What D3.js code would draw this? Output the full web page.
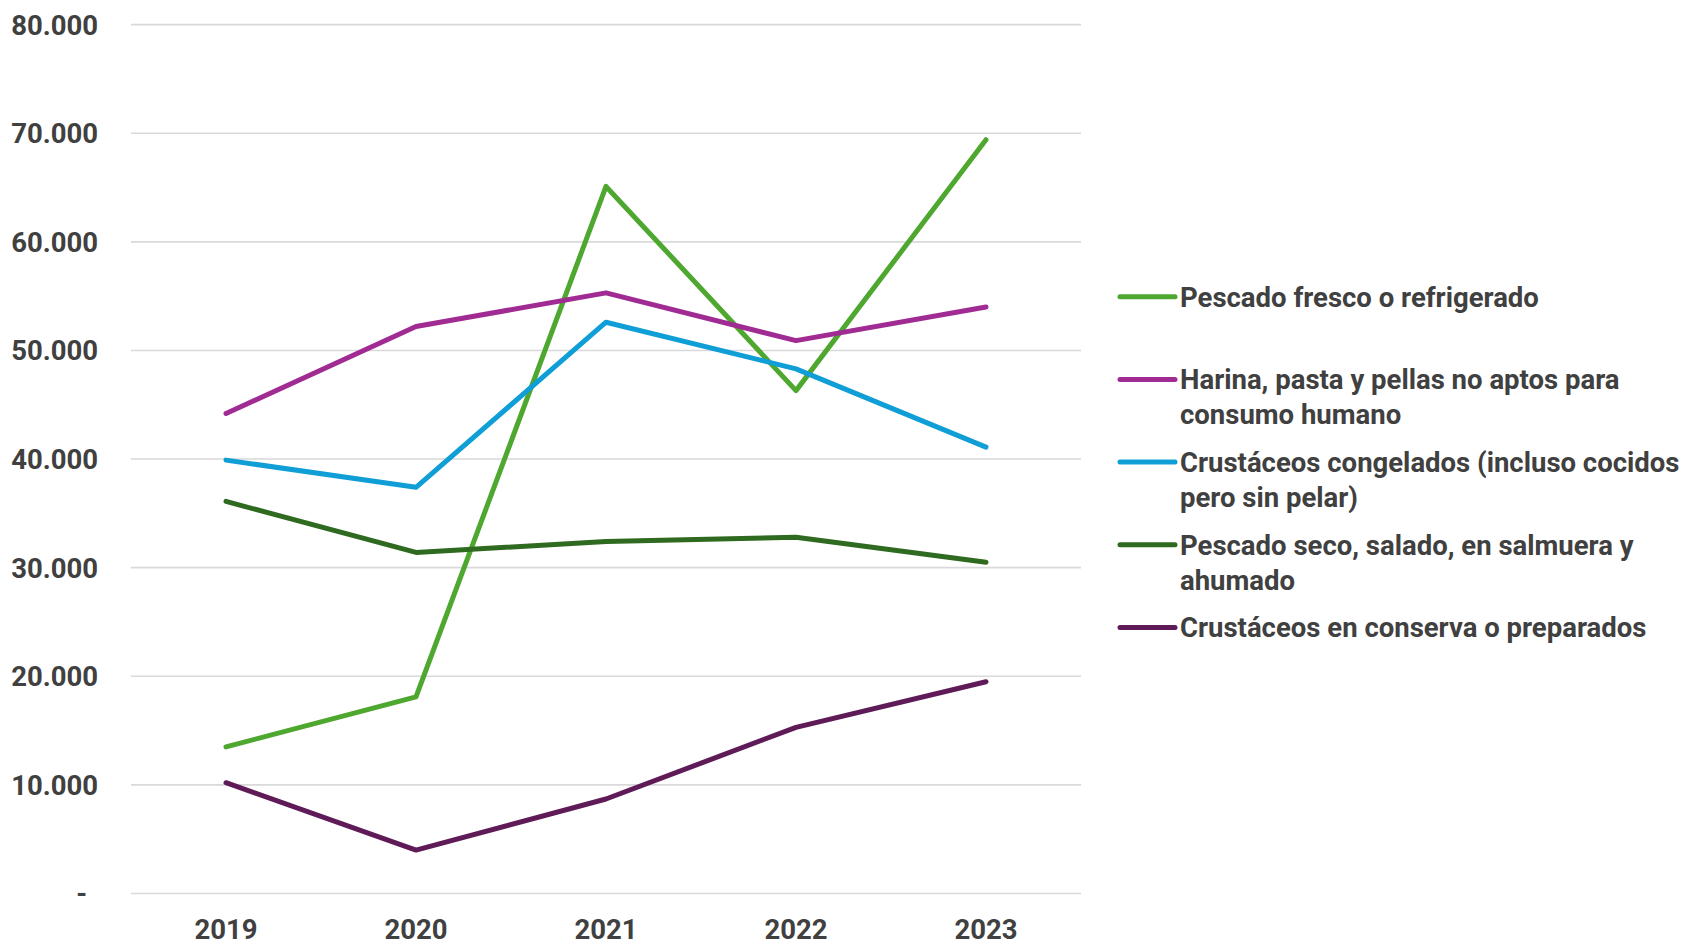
<!DOCTYPE html>
<html>
<head>
<meta charset="utf-8">
<script src="https://cdn.jsdelivr.net/npm/d3@7"></script>
<style>
  body { margin: 0; background: #fff; }
  text { font-family: Roboto, "Noto Sans", sans-serif; font-weight: 700; fill: #404040; }
</style>
</head>
<body>
<div id="wrapper"></div>
<script>
var YEARS = ["2019", "2020", "2021", "2022", "2023"]
var Y_TICKS = [0, 10000, 20000, 30000, 40000, 50000, 60000, 70000, 80000]

var PESCADO_FRESCO = [13500, 18100, 65100, 46300, 69400]
var HARINA = [44200, 52200, 55300, 50900, 54000]
var CRUSTACEOS_CONG = [39900, 37400, 52600, 48300, 41100]
var PESCADO_SECO = [36100, 31400, 32400, 32800, 30500]
var CRUSTACEOS_CONS = [10200, 4000, 8700, 15300, 19500]

var SERIES_NAMES = [
    ["Pescado fresco o refrigerado"],
    ["Harina, pasta y pellas no aptos para", "consumo humano"],
    ["Crustáceos congelados (incluso cocidos", "pero sin pelar)"],
    ["Pescado seco, salado, en salmuera y", "ahumado"],
    ["Crustáceos en conserva o preparados"]
]
var SERIES_VALUES = [PESCADO_FRESCO, HARINA, CRUSTACEOS_CONG, PESCADO_SECO, CRUSTACEOS_CONS]
var COLORS = ["#4EA72E", "#A02B93", "#0F9ED5", "#2E6A1F", "#5F1B57"]

var dimension = {
    width: 1685,
    height: 944,
    plotLeft: 131,
    plotRight: 1081,
    plotTop: 24.6,
    plotBottom: 893.5
}

var svg = d3.select("#wrapper")
    .append("svg")
    .attr("width", dimension.width)
    .attr("height", dimension.height)

var x = d3.scalePoint()
    .domain(YEARS)
    .range([dimension.plotLeft, dimension.plotRight])
    .padding(0.5)

var y = d3.scaleLinear()
    .domain([0, 80000])
    .range([dimension.plotBottom, dimension.plotTop])

var fmt = d3.formatLocale({decimal: ",", thousands: ".", grouping: [3], currency: ["", ""]}).format(",.0f")

// gridlines
svg.append("g")
    .selectAll("line")
    .data(Y_TICKS)
    .enter()
    .append("line")
    .attr("x1", dimension.plotLeft)
    .attr("x2", dimension.plotRight)
    .attr("y1", d => y(d))
    .attr("y2", d => y(d))
    .style("stroke", "#d9d9d9")
    .style("stroke-width", 1.6)

// y labels
svg.append("g")
    .selectAll("text")
    .data(Y_TICKS)
    .enter()
    .append("text")
    .attr("x", d => d === 0 ? 87 : 98)
    .attr("y", d => y(d))
    .attr("dy", "0.36em")
    .attr("text-anchor", "end")
    .style("font-size", "27.5px")
    .text(d => d === 0 ? "-" : fmt(d))

// x labels
svg.append("g")
    .selectAll("text")
    .data(YEARS)
    .enter()
    .append("text")
    .attr("x", d => x(d))
    .attr("y", 939)
    .attr("text-anchor", "middle")
    .style("font-size", "27.5px")
    .text(d => d)

var line = d3.line()
    .x((d, i) => x(YEARS[i]))
    .y(d => y(d))

svg.append("g")
    .selectAll("path")
    .data(SERIES_VALUES)
    .enter()
    .append("path")
    .attr("d", d => line(d))
    .style("fill", "none")
    .style("stroke", (d, i) => COLORS[i])
    .style("stroke-width", 5)
    .style("stroke-linecap", "round")
    .style("stroke-linejoin", "round")

// legend
var legend = svg.append("g")
    .selectAll("g")
    .data(SERIES_NAMES)
    .enter()
    .append("g")
    .attr("transform", (d, i) => `translate(1120,${296.7 + i * 82.7})`)

legend.append("line")
    .attr("x1", 0)
    .attr("x2", 55)
    .style("stroke", (d, i) => COLORS[i])
    .style("stroke-width", 5)
    .style("stroke-linecap", "round")

legend.append("text")
    .style("font-size", "27.5px")
    .selectAll("tspan")
    .data(d => d)
    .enter()
    .append("tspan")
    .attr("x", 60)
    .attr("dy", (d, i) => i === 0 ? "0.36em" : "35px")
    .text(d => d)
</script>
</body>
</html>
